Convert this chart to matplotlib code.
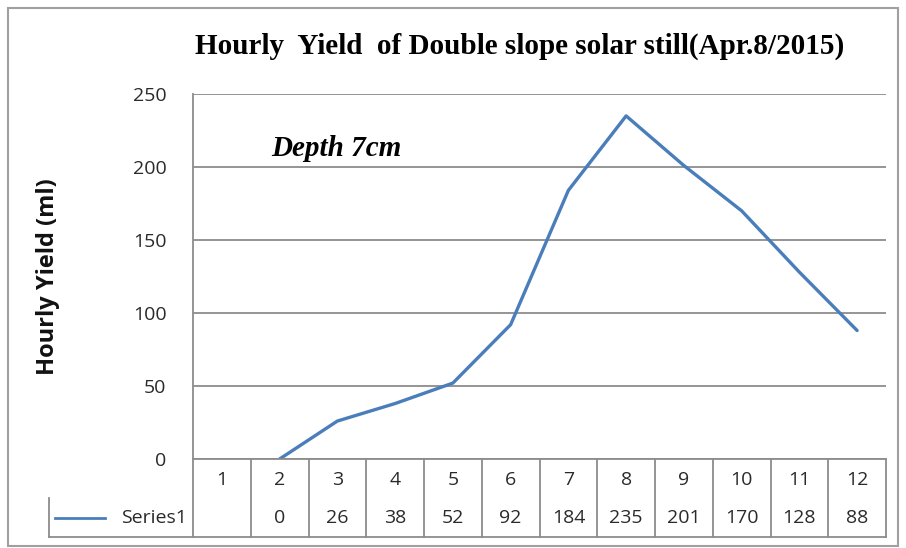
import numpy as np
import matplotlib.pyplot as plt
from matplotlib.lines import Line2D
from matplotlib.patches import Rectangle

hours = [1, 2, 3, 4, 5, 6, 7, 8, 9, 10, 11, 12]
yield_ml = [None, 0, 26, 38, 52, 92, 184, 235, 201, 170, 128, 88]
series_name = 'Series1'
y_ticks = [0, 50, 100, 150, 200, 250]

W, H = 906, 548
fig = plt.figure(figsize=(9.06, 5.48), dpi=100)

# plot area in pixels
left, right, top, bottom = 193, 886, 94, 459
ax = fig.add_axes([left / W, 1 - bottom / H, (right - left) / W, (bottom - top) / H])

y = np.array([np.nan if v is None else v for v in yield_ml], dtype=float)
ax.plot(hours, y, color='#4a7ebb', lw=2.4, solid_capstyle='round')

txt_c = '#2a2a2a'
fnt = 'Open Sans'

ax.set_xlim(0.5, 12.5)
ax.set_ylim(0, 250)
ax.set_yticks(y_ticks)
ax.set_xticks([])
ax.yaxis.grid(True, color='#8c8c8c', lw=1.3)
ax.set_axisbelow(True)
for s in ['top', 'right', 'bottom']:
    ax.spines[s].set_visible(False)
ax.spines['left'].set_color('#8c8c8c')
ax.spines['left'].set_linewidth(1.3)
ax.tick_params(axis='y', length=0, pad=19, labelsize=14, labelcolor=txt_c)
for t in ax.get_yticklabels():
    t.set_family(fnt)

ax.set_ylabel('Hourly Yield (ml)', fontsize=17, fontweight='bold', family=fnt, color='#111111')
ax.yaxis.set_label_coords(-0.192, 0.5)

fig.text(520 / W, 1 - 46 / H, 'Hourly  Yield  of Double slope solar still(Apr.8/2015)',
         ha='center', va='center', fontsize=21, fontweight='bold', family='Liberation Serif')
ax.text(1.86, 213, 'Depth 7cm', fontsize=21, fontweight='bold', style='italic',
        family='Liberation Serif', ha='left', va='center')

# data table under the chart
col_w = (right - left) / len(hours)
row1_y, row2_y, tab_bot = 459, 498, 537
leg_left = 49
gc = '#8c8c8c'


def px_line(x0, y0, x1, y1):
    fig.add_artist(Line2D([x0 / W, x1 / W], [1 - y0 / H, 1 - y1 / H], color=gc, lw=1.3))


px_line(left, row1_y, right, row1_y)
px_line(leg_left, tab_bot, right, tab_bot)
px_line(leg_left, row2_y, leg_left, tab_bot)
for i in range(len(hours) + 1):
    xx = left + i * col_w
    px_line(xx, row1_y, xx, tab_bot)

for i, (h, v) in enumerate(zip(hours, yield_ml)):
    cx = (left + (i + 0.5) * col_w) / W
    fig.text(cx, 1 - 480 / H, str(h), ha='center', va='center', fontsize=14, family=fnt, color=txt_c)
    if v is not None:
        fig.text(cx, 1 - 518 / H, str(v), ha='center', va='center', fontsize=14, family=fnt, color=txt_c)

fig.add_artist(Line2D([55 / W, 105 / W], [1 - 518 / H, 1 - 518 / H], color='#4a7ebb', lw=2))
fig.text(187 / W, 1 - 518 / H, series_name, ha='right', va='center', fontsize=14, family=fnt, color=txt_c)

# outer chart border
fig.add_artist(Rectangle((8 / W, 1 - 546 / H), 890 / W, 538 / H, fill=False, ec='#a0a0a0', lw=1.5))

fig.savefig('out.png', dpi=100)
